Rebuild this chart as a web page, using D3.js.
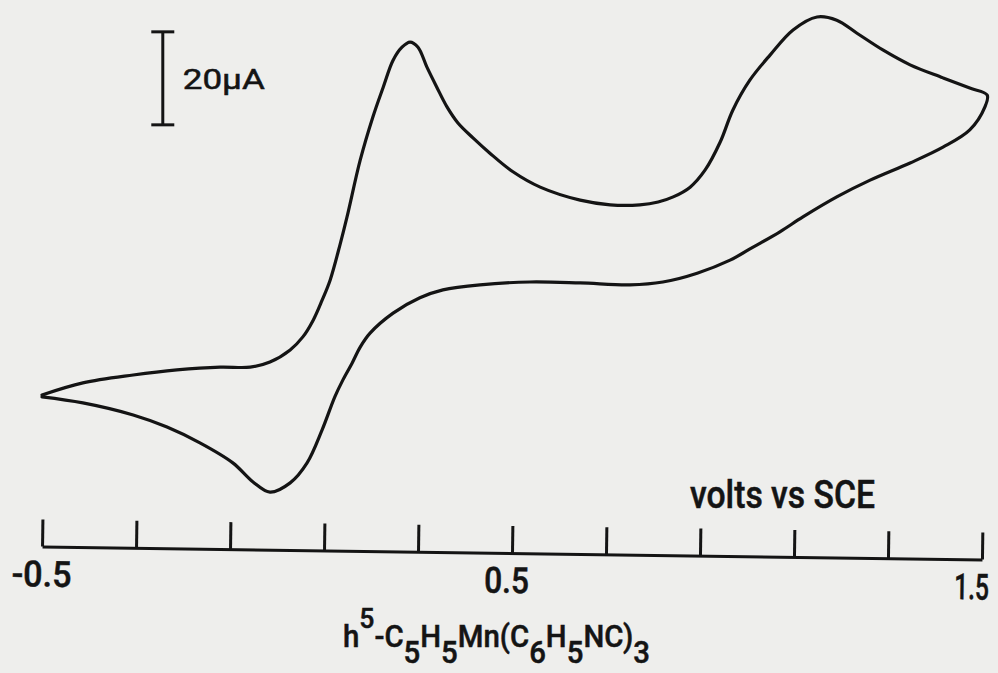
<!DOCTYPE html>
<html><head><meta charset="utf-8">
<script src="https://cdn.jsdelivr.net/npm/d3@7"></script>
<style>html,body{margin:0;padding:0;background:#eeeeec;} svg{display:block;}</style>
</head><body>
<svg id="chart" width="998" height="673"></svg>
<script>
// Cyclic voltammogram, h5-C5H5Mn(C6H5NC)3 — potential (V vs SCE), current (µA, relative to start)
const forwardV = [-0.5, -0.413, -0.306, -0.213, -0.121, -0.057, -0.015, 0.028, 0.055, 0.077, 0.096, 0.113, 0.134, 0.149, 0.177, 0.204, 0.226, 0.247, 0.266, 0.283, 0.300, 0.319, 0.340, 0.362, 0.385, 0.417, 0.453, 0.502, 0.560, 0.645, 0.709, 0.772, 0.811, 0.843, 0.879, 0.911, 0.943, 0.970, 1.006, 1.049, 1.098, 1.149, 1.191, 1.234, 1.289, 1.347, 1.417, 1.474, 1.511];
const forwardI = [0, 2.6, 4.3, 5.4, 6.0, 6.0, 7.1, 9.7, 12.5, 16.1, 20.4, 24.7, 32.3, 38.3, 50.5, 59.8, 66.2, 72.0, 74.8, 75.9, 74.8, 70.5, 66.2, 61.9, 58.5, 55.3, 52.0, 48.0, 44.7, 41.9, 40.9, 40.9, 41.5, 42.6, 44.7, 48.4, 54.4, 61.3, 67.7, 73.1, 78.5, 81.3, 80.6, 77.8, 74.2, 71.0, 68.2, 66.0, 64.5];
const reverseV = [1.506, 1.474, 1.417, 1.347, 1.262, 1.191, 1.119, 1.070, 1.013, 0.964, 0.894, 0.821, 0.751, 0.645, 0.538, 0.432, 0.353, 0.304, 0.247, 0.198, 0.177, 0.160, 0.140, 0.123, 0.096, 0.064, 0.028, -0.015, -0.051, -0.094, -0.164, -0.234, -0.306, -0.413, -0.5];
const reverseI = [61.9, 57.0, 53.3, 49.9, 46.2, 42.6, 38.3, 35.1, 31.8, 29.0, 26.2, 24.3, 23.7, 24.1, 24.3, 23.7, 22.6, 20.9, 17.6, 13.3, 10.3, 6.9, 3.2, -0.4, -7.5, -14.6, -18.9, -20.9, -18.7, -14.6, -10.3, -6.9, -4.3, -1.7, -0.4];

const tickValues = [-0.5, -0.3, -0.1, 0.1, 0.3, 0.5, 0.7, 0.9, 1.1, 1.3, 1.5];
const labelValues = [-0.5, 0.5, 1.5];
const labelTexts = ["-0.5", "0.5", "1.5"];
const scaleBarV = -0.243;      // potential where the current scale bar sits
const scaleBarBase = 58.1;     // µA at bar bottom
const scaleBarSize = 20;       // µA
const scaleBarLabel = "20µA";
const axisTitle = "volts vs SCE";

const FONT = "Roboto,'DejaVu Sans',sans-serif";
const INK = "#141414";

const svg = d3.select("#chart");
svg.append("rect").attr("width", 998).attr("height", 673).attr("fill", "#eeeeec");

const x = d3.scaleLinear().domain([-0.5, 1.5]).range([42, 982]);
const y = d3.scaleLinear().domain([0, 20]).range([395, 302]);

// curve
const pts = forwardV.map((v, i) => [v, forwardI[i]])
  .concat(reverseV.map((v, i) => [v, reverseI[i]]));
const line = d3.line().x(d => x(d[0])).y(d => y(d[1])).curve(d3.curveCatmullRom.alpha(0.5));
svg.append("path").attr("d", line(pts)).attr("fill", "none")
  .attr("stroke", INK).attr("stroke-width", 3.2)
  .attr("stroke-linejoin", "round").attr("stroke-linecap", "round");

function ink(sel, len) {
  sel.attr("font-family", FONT).attr("font-weight", 500).attr("fill", INK)
    .attr("stroke", INK).attr("stroke-width", 0.5);
  if (len) sel.attr("textLength", len).attr("lengthAdjust", "spacingAndGlyphs");
  return sel;
}

// potential axis (slightly tilted as in the scan)
const labelWidths = [60, 45, 35];
const labelDx = [0, -5, -10];
const ax = svg.append("g").attr("transform", "rotate(0.79,512,553) translate(0,553)");
ax.call(d3.axisTop(x).tickValues(tickValues).tickSize(27).tickSizeOuter(0).tickFormat(() => ""));
ax.selectAll("path.domain, .tick line").attr("stroke", INK).attr("stroke-width", 3);
ax.selectAll("text.lbl").data(labelValues).join("text").attr("class", "lbl")
  .attr("x", (d, i) => x(d) + labelDx[i]).attr("y", 40)
  .attr("text-anchor", "middle").attr("font-size", 36)
  .each(function (d, i) { ink(d3.select(this), labelWidths[i]); })
  .text((d, i) => labelTexts[i]);

// current scale bar
const bx = x(scaleBarV), by0 = y(scaleBarBase), by1 = y(scaleBarBase + scaleBarSize);
const sb = svg.append("g").attr("stroke", INK).attr("stroke-width", 3);
sb.append("line").attr("x1", bx).attr("x2", bx).attr("y1", by0).attr("y2", by1);
sb.append("line").attr("x1", bx - 11.5).attr("x2", bx + 11.5).attr("y1", by0).attr("y2", by0);
sb.append("line").attr("x1", bx - 11.5).attr("x2", bx + 11.5).attr("y1", by1).attr("y2", by1);
ink(svg.append("text").attr("x", bx + 20).attr("y", (by0 + by1) / 2 + 11)
  .attr("font-size", 28), 82).attr("font-weight", 400).text(scaleBarLabel);

// axis title
ink(svg.append("text").attr("x", 690).attr("y", 508).attr("font-size", 38), 185).text(axisTitle);

// compound formula
const f = ink(svg.append("text").attr("x", 343).attr("y", 647).attr("font-size", 31), 307);
const parts = [
  ["h", 0, 31], ["5", -19, 28], ["-C", 19, 31], ["5", 16, 31], ["H", -16, 31], ["5", 16, 31],
  ["Mn(C", -16, 31], ["6", 16, 31], ["H", -16, 31], ["5", 16, 31], ["NC)", -16, 31], ["3", 16, 31]
];
parts.forEach(p => f.append("tspan").attr("dy", p[1]).attr("font-size", p[2]).text(p[0]));
</script>
</body></html>
